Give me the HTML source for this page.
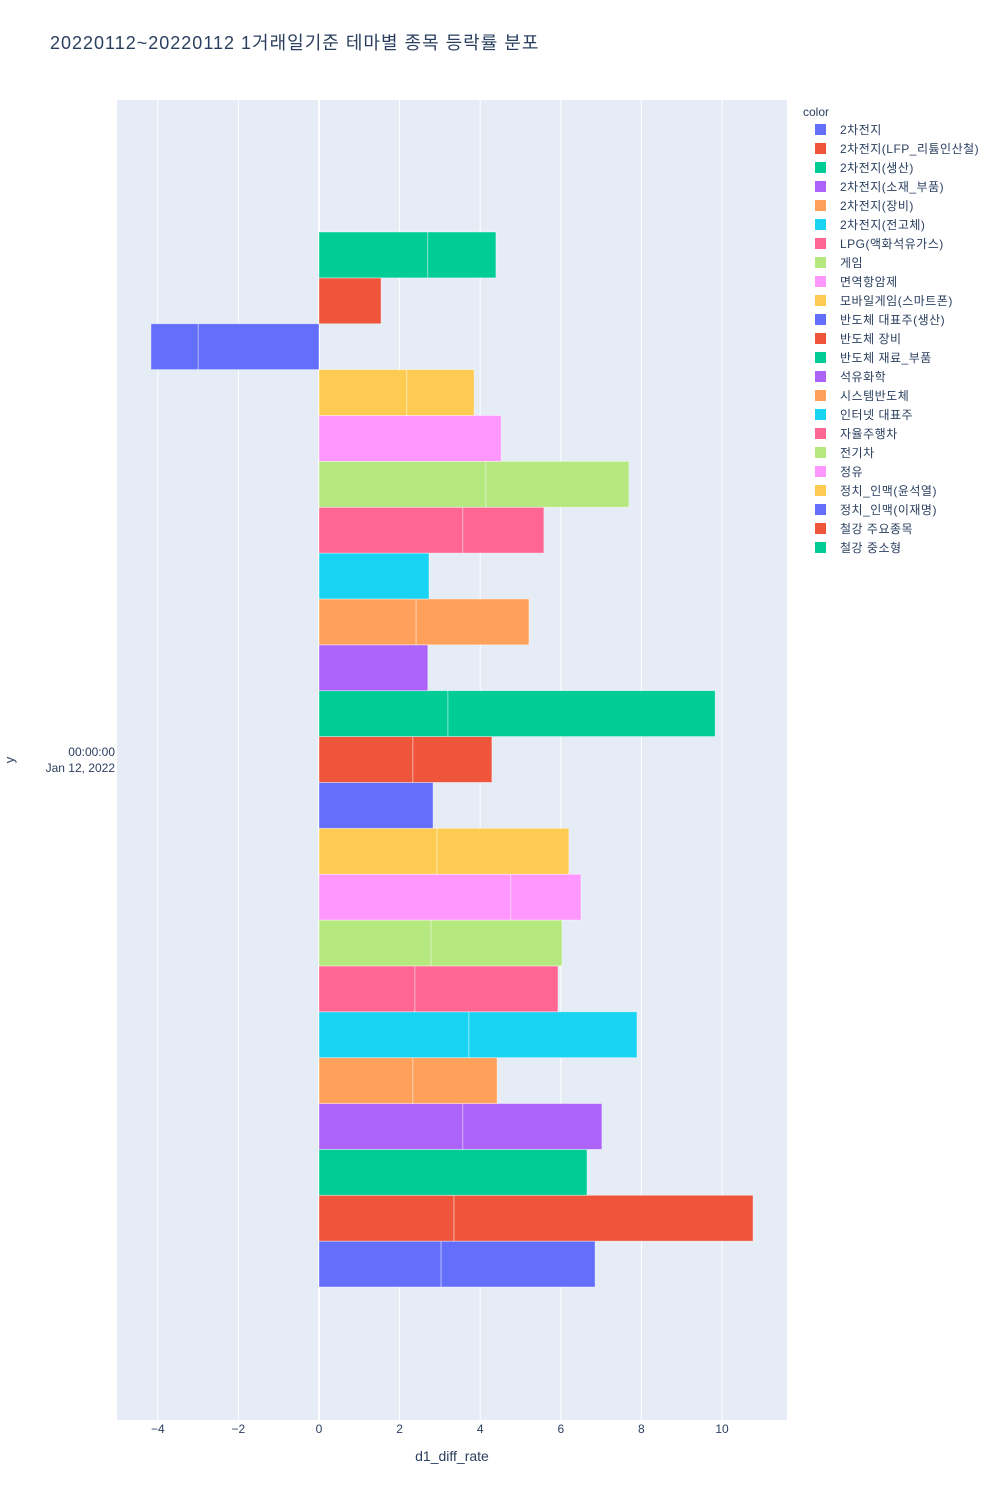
<!DOCTYPE html>
<html><head><meta charset="utf-8"><style>
body{margin:0;background:#fff;font-family:"Liberation Sans","Noto Sans CJK KR",sans-serif;}
svg text{font-family:"Liberation Sans","Noto Sans CJK KR",sans-serif;fill:#2a3f5f;}
</style></head><body>
<svg id="chart" width="1000" height="1500">
<text x="50" y="49" font-size="18" letter-spacing="1">20220112~20220112 1거래일기준 테마별 종목 등락률 분포</text>
<rect x="117" y="100" width="670" height="1320" fill="#e5ecf6"/>
<g id="grid"></g><g id="bars"></g><g id="xticks"></g><g id="legend"></g>
<text x="452" y="1461" font-size="14" text-anchor="middle">d1_diff_rate</text>
<text x="14" y="760" font-size="13" text-anchor="middle" transform="rotate(-90 14 760)">y</text>
<text x="115" y="756" font-size="12" text-anchor="end">00:00:00</text>
<text x="115" y="772" font-size="12" text-anchor="end">Jan 12, 2022</text>
</svg>
<script>
const categories=["2차전지","2차전지(LFP_리튬인산철)","2차전지(생산)","2차전지(소재_부품)","2차전지(장비)","2차전지(전고체)","LPG(액화석유가스)","게임","면역항암제","모바일게임(스마트폰)","반도체 대표주(생산)","반도체 장비","반도체 재료_부품","석유화학","시스템반도체","인터넷 대표주","자율주행차","전기차","정유","정치_인맥(윤석열)","정치_인맥(이재명)","철강 주요종목","철강 중소형"];
const seg1=[3.03,3.35,6.65,3.57,2.33,3.72,2.38,2.78,4.76,2.93,2.83,2.33,3.20,2.70,2.41,2.73,3.57,4.14,4.52,2.18,-3.0,1.54,2.70];
const seg2=[3.82,7.42,0,3.45,2.09,4.17,3.55,3.25,1.74,3.27,0,1.96,6.63,0,2.80,0,2.01,3.55,0,1.67,-1.17,0,1.69];
const xTicks=[-4,-2,0,2,4,6,8,10];
const xTickLabels=["−4","−2","0","2","4","6","8","10"];
const colors=["#636efa","#EF553B","#00cc96","#ab63fa","#FFA15A","#19d3f3","#FF6692","#B6E880","#FF97FF","#FECB52"];
const NS="http://www.w3.org/2000/svg";
function X(v){return 319+v*40.3;}
const bandTop=232,bandH=(1287-232)/categories.length;
function Y(i){return bandTop+(categories.length-1-i)*bandH;}
function mk(t,a,p){const e=document.createElementNS(NS,t);for(const k in a)e.setAttribute(k,a[k]);document.getElementById(p).appendChild(e);return e;}
xTicks.forEach((t,i)=>{
 const l=mk("line",{x1:X(t),x2:X(t),y1:100,y2:1420,stroke:"#fff","stroke-width":t===0?2:1},"grid");
 
 
 const tx=mk("text",{x:X(t),y:1433,"font-size":12,"text-anchor":"middle"},"xticks");
 tx.textContent=xTickLabels[i];
 
 
});
categories.forEach((c,i)=>{
 const col=colors[i%10],y=Y(i);
 const a=X(0),b=X(seg1[i]),d=X(seg1[i]+seg2[i]);
 const r1=mk("rect",{x:Math.min(a,b),y:y,width:Math.abs(b-a),height:bandH,fill:col,stroke:"rgba(255,255,255,0.5)","stroke-width":0.8},"bars");
 
 
 if(seg2[i]!==0){
  const r2=mk("rect",{x:Math.min(b,d),y:y,width:Math.abs(d-b),height:bandH,fill:col,stroke:"rgba(255,255,255,0.5)","stroke-width":0.8},"bars");
  
  
 }
 const ly=130+i*19;
 const sq=mk("rect",{x:815,y:ly-6,width:11,height:11,fill:col},"legend");
 
 
 const lt=mk("text",{x:840,y:ly+4,"font-size":12,"letter-spacing":0.5},"legend");
 lt.textContent=c;
 
 
});
const lg=mk("text",{x:803,y:116,"font-size":12},"legend");
lg.textContent="color";


</script>
</body></html>
